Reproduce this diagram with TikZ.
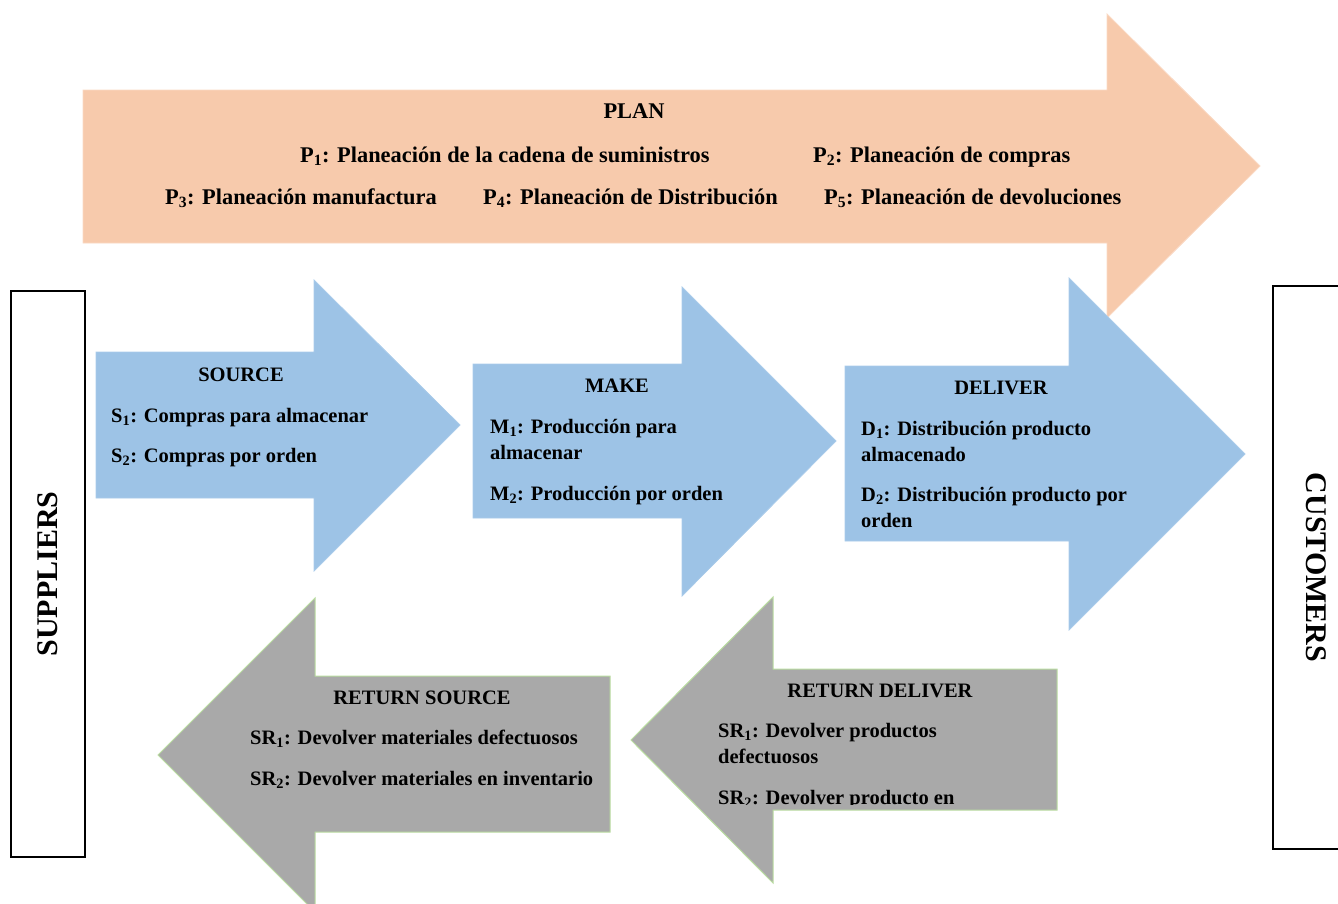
\documentclass[tikz,border=0pt]{standalone}
\usepackage{fontspec}
\setmainfont{Liberation Serif}
\newcommand{\ix}[1]{\textsubscript{#1}}
\definecolor{peach}{HTML}{F7CAAC}
\definecolor{peachedge}{HTML}{FAD9C4}
\definecolor{bluefill}{HTML}{9DC3E6}
\definecolor{blueedge}{HTML}{A9CBEA}
\definecolor{grayfill}{HTML}{A9A9A9}
\definecolor{greenedge}{HTML}{B9DCA0}
\tikzset{
  planshape/.style={fill=peach, draw=peachedge, line width=0.8},
  flowshape/.style={fill=bluefill, draw=blueedge, line width=0.8},
  retshape/.style={fill=grayfill, draw=greenedge, line width=1},
  sidebox/.style={draw=black, line width=1.4, fill=white},
  sidelabel/.style={font=\fontsize{30}{34}\selectfont\bfseries, inner sep=0},
  plantxt/.style={font=\fontsize{22.4}{26}\selectfont\bfseries, inner sep=0},
  headtxt/.style={font=\fontsize{20.5}{26}\selectfont\bfseries, inner sep=0, anchor=base},
  % multi-line items: the base anchor sits on the last line
  itemtxt/.style={font=\fontsize{20.5}{26}\selectfont\bfseries, inner sep=0, anchor=base west, align=left},
}
\begin{document}
\begin{tikzpicture}[x=1pt, y=-1pt]
\useasboundingbox (0,0) rectangle (1338,903);
\clip (0,0) rectangle (1338,903);

% PLAN arrow
\path[planshape] (83,90) -- (1107,90) -- (1107,14) -- (1260,166) -- (1107,318)
  -- (1107,243) -- (83,243) -- cycle;
\node[plantxt, anchor=base] (plan) at (634,118) {PLAN};
\node[plantxt, anchor=base west] (p1) at (300,162) {P\ix{1}: Planeación de la cadena de suministros};
\node[plantxt, anchor=base west] (p2) at (813,162) {P\ix{2}: Planeación de compras};
\node[plantxt, anchor=base west] (p3) at (165,204) {P\ix{3}: Planeación manufactura};
\node[plantxt, anchor=base west] (p4) at (483,204) {P\ix{4}: Planeación de Distribución};
\node[plantxt, anchor=base west] (p5) at (824,204) {P\ix{5}: Planeación de devoluciones};

% SOURCE arrow
\path[flowshape] (96,352) -- (314,352) -- (314,280) -- (460,425) -- (314,571)
  -- (314,498) -- (96,498) -- cycle;
\node[headtxt] (source) at (241,381) {SOURCE};
\node[itemtxt] (s1) at (111,422) {S\ix{1}: Compras para almacenar};
\node[itemtxt] (s2) at (111,462) {S\ix{2}: Compras por orden};

% MAKE arrow
\path[flowshape] (473,364) -- (682,364) -- (682,287) -- (836,441) -- (682,596)
  -- (682,518) -- (473,518) -- cycle;
\node[headtxt] (make) at (617,392) {MAKE};
\node[itemtxt] (m1) at (490,459) {M\ix{1}: Producción para\\almacenar};
\node[itemtxt] (m2) at (490,500) {M\ix{2}: Producción por orden};

% DELIVER arrow
\path[flowshape] (845,366) -- (1069,366) -- (1069,278) -- (1245,454) -- (1069,630)
  -- (1069,541) -- (845,541) -- cycle;
\node[headtxt] (deliver) at (1001,394) {DELIVER};
\node[itemtxt] (d1) at (861,461) {D\ix{1}: Distribución producto\\almacenado};
\node[itemtxt] (d2) at (861,527) {D\ix{2}: Distribución producto por\\orden};

% RETURN SOURCE arrow
\path[retshape] (610,676) -- (315,676) -- (315,598) -- (158,755) -- (315,912)
  -- (315,832) -- (610,832) -- cycle;
\node[headtxt] (rsource) at (422,704) {RETURN SOURCE};
\node[itemtxt] (sr1) at (250,744) {SR\ix{1}: Devolver materiales defectuosos};
\node[itemtxt] (sr2) at (250,785) {SR\ix{2}: Devolver materiales en inventario};

% RETURN DELIVER arrow
\path[retshape] (1057,669) -- (773,669) -- (773,597) -- (631,740) -- (773,883)
  -- (773,810) -- (1057,810) -- cycle;
\node[headtxt] (rdeliver) at (880,697) {RETURN DELIVER};
\node[itemtxt] (dr1) at (718,763) {SR\ix{1}: Devolver productos\\defectuosos};
\begin{scope}
  \clip (700,780) rectangle (1050,804);
  \node[itemtxt] (dr2) at (718,804) {SR\ix{2}: Devolver producto en};
\end{scope}

% Suppliers and customers
\node[sidebox, minimum width=74, minimum height=566, inner sep=0] (suppliers) at (48,574) {};
\node[sidelabel, rotate=90] (supplab) at (suppliers.center) {SUPPLIERS};
\node[sidebox, minimum width=74, minimum height=563, inner sep=0] (customers) at (1310,567.5) {};
\node[sidelabel, rotate=-90] (custlab) at (1316,567.5) {CUSTOMERS};
\end{tikzpicture}
\end{document}
